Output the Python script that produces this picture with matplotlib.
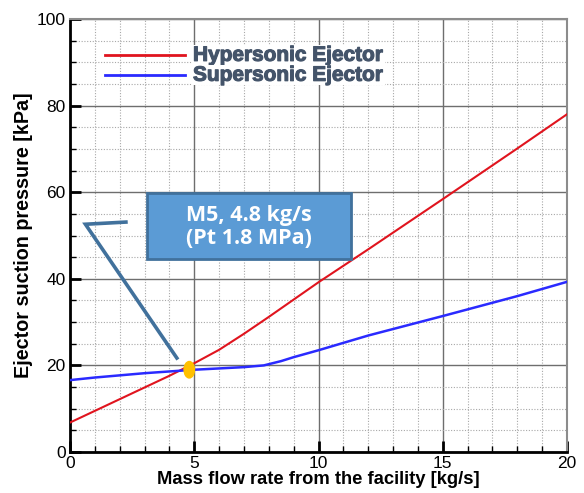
import matplotlib
matplotlib.use("Agg")
import matplotlib.pyplot as plt
import matplotlib.patheffects as pe
from matplotlib.patches import Ellipse, FancyBboxPatch
from matplotlib.ticker import MultipleLocator

# Hypersonic ejector suction pressure vs. facility mass flow
hyper_x = [0, 1, 2, 3, 4, 5, 6, 7, 8, 9, 10, 12, 15, 18, 20]
hyper_y = [6.8, 9.5, 12.2, 14.9, 17.6, 20.5, 23.6, 27.3, 31.2, 35.2, 39.2, 46.8, 58.4, 70.1, 78.0]

# Supersonic ejector suction pressure vs. facility mass flow
super_x = [0, 1, 2, 3, 4, 5, 6, 7, 7.8, 8.5, 9, 10, 12, 15, 18, 20]
super_y = [16.6, 17.2, 17.7, 18.2, 18.6, 19.0, 19.3, 19.6, 20.0, 21.0, 21.9, 23.5, 26.9, 31.4, 36.0, 39.3]

# Operating point
op_x, op_y = 4.8, 19.0
op_label = "M5, 4.8 kg/s\n(Pt 1.8 MPa)"

series_names = ["Hypersonic Ejector", "Supersonic Ejector"]

fig = plt.figure(figsize=(5.84, 4.93), dpi=100)
ax = fig.add_axes([70 / 584, 41 / 493, 497 / 584, 433 / 493])

ax.set_xlim(0, 20)
ax.set_ylim(0, 100)
ax.xaxis.set_major_locator(MultipleLocator(5))
ax.xaxis.set_minor_locator(MultipleLocator(1))
ax.yaxis.set_major_locator(MultipleLocator(20))
ax.yaxis.set_minor_locator(MultipleLocator(5))

ax.grid(which="major", color="#6e6e6e", lw=1.0, ls="-", zorder=0)
ax.grid(which="minor", color="#a8a8a8", lw=0.8, ls=(0, (1, 1.5)), zorder=0)
ax.set_axisbelow(True)

for side in ("left", "bottom"):
    ax.spines[side].set_color("black")
    ax.spines[side].set_linewidth(2.0)
for side in ("top", "right"):
    ax.spines[side].set_color("#8c8c8c")
    ax.spines[side].set_linewidth(1.5)

tick_font = "Liberation Sans"
ax.tick_params(which="major", direction="in", length=8, width=2, colors="black",
               labelsize=12.5, pad=3)
ax.tick_params(which="minor", direction="in", length=4, width=1, colors="black")
for lab in ax.get_xticklabels() + ax.get_yticklabels():
    lab.set_fontfamily(tick_font)

ax.plot(hyper_x, hyper_y, color="#e0141e", lw=1.5, zorder=3)
ax.plot(super_x, super_y, color="#2a2aff", lw=1.8, zorder=3)

ax.add_patch(Ellipse((op_x, op_y), width=0.42, height=3.8, color="#ffc000", zorder=5))

ax.set_xlabel("Mass flow rate from the facility [kg/s]", fontsize=13.2,
              fontweight="bold", fontfamily=tick_font, labelpad=0)
ax.set_ylabel("Ejector suction pressure [kPa]", fontsize=14.2,
              fontweight="bold", fontfamily=tick_font, labelpad=3)

# Legend drawn as line samples with heavy bold labels
legend_color = "#44546a"
for name, color, ypos in [(series_names[0], "#e0141e", 91.6),
                          (series_names[1], "#2a2aff", 87.0)]:
    ax.plot([1.4, 4.63], [ypos, ypos], color=color, lw=2.0, zorder=4)
    t = ax.text(4.95, ypos, name, color=legend_color, fontsize=15, fontweight="bold",
                fontfamily=tick_font, va="center", ha="left", zorder=4,
                bbox=dict(facecolor="white", edgecolor="none", pad=0.5))
    t.set_path_effects([pe.withStroke(linewidth=0.8, foreground=legend_color)])

# Callout connector
ax.plot([2.25, 0.62, 4.3], [53.1, 52.6, 21.7], color="#41719c", lw=2.6,
        solid_joinstyle="miter", zorder=4)

# Callout box
box = FancyBboxPatch((147 / 584, 1 - 259 / 493), 204 / 584, 66 / 493,
                     boxstyle="square,pad=0", transform=fig.transFigure,
                     facecolor="#5b9bd5", edgecolor="#41719c", lw=2.0, zorder=6)
fig.patches.append(box)
fig.text(249 / 584, 1 - 227 / 493, op_label, color="white", fontsize=15.5,
         fontweight="bold", fontfamily="Open Sans", ha="center", va="center",
         linespacing=1.1, zorder=7)

fig.savefig("out.png", dpi=100)
